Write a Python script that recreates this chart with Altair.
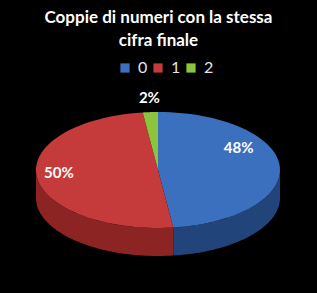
import altair as alt
import pandas as pd

categories = ["0", "1", "2"]
values = [48, 50, 2]
top_colors = ["#3B70BF", "#C53A3A", "#8DC43D"]
side_colors = ["#21457A", "#8C2424", "#5E8A28"]

CX, CY, RX, RY, DEPTH = 158, 170, 122, 58, 28
N = 60

df = pd.DataFrame({"cat": categories, "value": values})

X = alt.X("px:Q", scale=alt.Scale(domain=[0, 317], nice=False, zero=False), axis=None)
Y = alt.Y("py:Q", scale=alt.Scale(domain=[293, 0], nice=False, zero=False), axis=None)

base = alt.Chart(df).transform_window(
    cum="sum(value)", sort=[alt.SortField("cat")], frame=[None, 0]
).transform_joinaggregate(total="sum(value)").transform_calculate(
    a0="2*PI*(datum.cum - datum.value)/datum.total",
    a1="2*PI*datum.cum/datum.total",
)

top = base.transform_calculate(
    k=f"sequence(0, {N + 2})"
).transform_flatten(["k"]).transform_calculate(
    ang=f"datum.a0 + (datum.a1 - datum.a0) * (datum.k - 1) / {N}"
).transform_calculate(
    px=f"datum.k == 0 ? {CX} : {CX} + {RX} * sin(datum.ang)",
    py=f"datum.k == 0 ? {CY} : {CY} - {RY} * cos(datum.ang)",
).mark_line(filled=True, strokeWidth=0).encode(
    x=X, y=Y, order="k:Q",
    color=alt.Color("cat:N", scale=alt.Scale(domain=categories, range=top_colors), legend=None),
)

side = base.transform_calculate(
    s0="max(datum.a0, PI/2)", s1="min(datum.a1, 3*PI/2)"
).transform_filter("datum.s1 > datum.s0").transform_calculate(
    k=f"sequence(0, {2 * N + 2})"
).transform_flatten(["k"]).transform_calculate(
    ang=f"datum.k <= {N} ? datum.s0 + (datum.s1 - datum.s0) * datum.k / {N} : datum.s1 - (datum.s1 - datum.s0) * (datum.k - {N + 1}) / {N}",
    off=f"datum.k <= {N} ? 0 : {DEPTH}",
).transform_calculate(
    px=f"{CX} + {RX} * sin(datum.ang)",
    py=f"{CY} - {RY} * cos(datum.ang) + datum.off",
).mark_line(filled=True, strokeWidth=0).encode(
    x=X, y=Y, order="k:Q",
    color=alt.Color("cat:N", scale=alt.Scale(domain=categories, range=side_colors), legend=None),
)

legend_layer = alt.Chart(df).mark_square(size=0).encode(
    x=alt.value(0), y=alt.value(0),
    color=alt.Color("cat:N", scale=alt.Scale(domain=categories, range=top_colors),
                    legend=alt.Legend(orient="none", legendX=117, legendY=60,
                                      direction="horizontal", title=None,
                                      symbolType="square", symbolSize=85,
                                      symbolStrokeWidth=0, symbolOpacity=1,
                                      labelColor="#E6E6E6", labelFontSize=16,
                                      labelFont="Lato", columnPadding=2,
                                      labelOffset=5, padding=0)),
)

labels = base.transform_calculate(
    mid="(datum.a0 + datum.a1) / 2",
    small="datum.value / datum.total < 0.05",
    label="format(datum.value / datum.total, '.0%')",
).transform_calculate(
    f="datum.small ? 1.12 : 0.74",
    dx="datum.small ? 0 : -9.5",
    dy="datum.small ? -7 : -(10.5 + 8.5 * sin(datum.mid))",
).transform_calculate(
    px=f"{CX} + {RX} * datum.f * sin(datum.mid) + datum.dx",
    py=f"{CY} - {RY} * datum.f * cos(datum.mid) + datum.dy",
).mark_text(font="Lato", fontSize=15, fontWeight="bold", color="white", align="center").encode(
    x=X, y=Y, text="label:N"
)

chart = alt.layer(side, top, legend_layer, labels).resolve_scale(
    color="independent"
).resolve_legend(color="independent").properties(
    width=317, height=293,
    autosize=alt.AutoSizeParams(type="none"),
    padding=0,
    background="black",
    title=alt.Title(["Coppie di numeri con la stessa", "cifra finale"],
                    font="Lato", fontSize=17, fontWeight="bold", color="white",
                    anchor="middle", offset=-50, frame="group", lineHeight=23),
).configure_view(stroke=None)

chart.save("out.html", embed_options={"renderer": "svg", "actions": False})
